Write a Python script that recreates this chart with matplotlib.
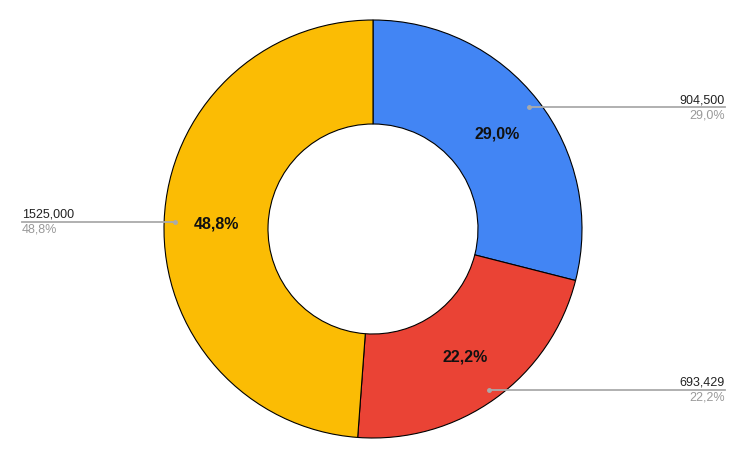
import numpy as np
import matplotlib.pyplot as plt

plt.rcParams["font.family"] = ["Liberation Sans", "DejaVu Sans"]

values = [904500, 693429, 1525000]
value_labels = ["904,500", "693,429", "1525,000"]
colors = ["#4285F4", "#EA4335", "#FBBC04"]

W, H = 745, 460
cx, cy = 373, H - 230
R = 209
hole = 105

fig = plt.figure(figsize=(W / 100, H / 100), dpi=100)
ax = fig.add_axes([0, 0, 1, 1])

wedges, _ = ax.pie(values, colors=colors, startangle=90, counterclock=False,
                   center=(cx, cy), radius=R, frame=True,
                   wedgeprops=dict(width=R - hole, edgecolor="black", linewidth=0.8))
ax.set_xlim(0, W)
ax.set_ylim(0, H)
ax.axis("off")

total = sum(values)
for w, v, lab in zip(wedges, values, value_labels):
    pct = ("%.1f%%" % (100 * v / total)).replace(".", ",")
    ang = np.deg2rad((w.theta1 + w.theta2) / 2)
    rm = (R + hole) / 2
    ax.text(cx + rm * np.cos(ang), cy + rm * np.sin(ang), pct,
            ha="center", va="center", fontsize=11.5, fontweight="bold", color="#111111")
    dx = cx + 198 * np.cos(ang)
    dy = cy + 198 * np.sin(ang)
    if np.cos(ang) >= 0:
        xe, ha = 725, "right"
    else:
        xe, ha = 22, "left"
    ax.plot([dx, xe], [dy, dy], color="#aaaaaa", linewidth=1.3, zorder=3)
    ax.plot([dx], [dy], marker="o", markersize=2.5, color="#aaaaaa", zorder=3)
    ax.text(xe, dy + 2, lab, ha=ha, va="bottom", fontsize=9, color="#222222")
    ax.text(xe, dy - 1, pct, ha=ha, va="top", fontsize=9, color="#999999")

fig.savefig("out.png", dpi=100, facecolor="white")
